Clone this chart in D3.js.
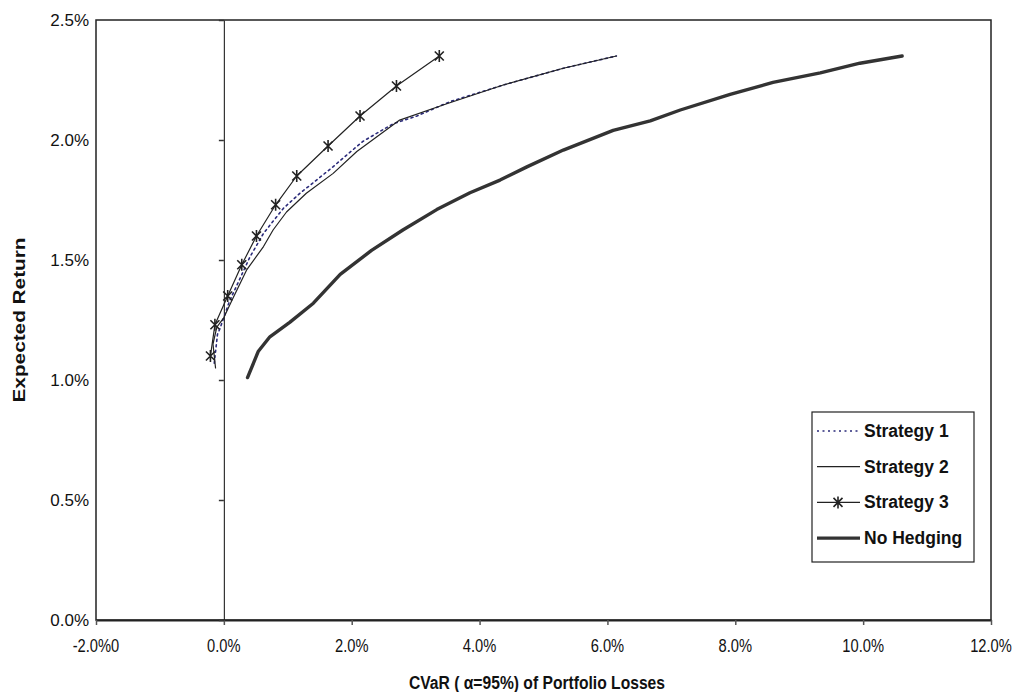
<!DOCTYPE html>
<html>
<head>
<meta charset="utf-8">
<script src="https://cdn.jsdelivr.net/npm/d3@7"></script>
<style>
  body { margin: 0; background: #fff; }
  text { font-family: "Liberation Sans", Arial, sans-serif; }
</style>
</head>
<body>
<div id="chart"></div>
<script>
// values in percent
const xTicks = [-2, 0, 2, 4, 6, 8, 10, 12]
const yTicks = [0, 0.5, 1, 1.5, 2, 2.5]

const s1X = [-0.15, -0.10, -0.06, 0.09, 0.17, 0.41, 0.62, 0.93, 1.19, 1.45, 1.71, 1.95, 2.18, 2.65, 3.02, 3.54, 4.37, 5.31, 6.14]
const s1Y = [1.07, 1.19, 1.215, 1.33, 1.375, 1.514, 1.611, 1.715, 1.778, 1.833, 1.889, 1.944, 1.995, 2.068, 2.10, 2.16, 2.229, 2.299, 2.35]

const s2X = [-0.13, -0.17, -0.11, 0.0, 0.14, 0.36, 0.62, 0.77, 0.98, 1.29, 1.71, 2.08, 2.75, 3.43, 4.37, 5.31, 6.14]
const s2Y = [1.05, 1.15, 1.22, 1.26, 1.34, 1.46, 1.556, 1.625, 1.70, 1.778, 1.861, 1.952, 2.083, 2.146, 2.229, 2.299, 2.35]

const s3X = [-0.21, -0.14, 0.06, 0.28, 0.51, 0.81, 1.14, 1.63, 2.13, 2.70, 3.37]
const s3Y = [1.10, 1.23, 1.35, 1.48, 1.60, 1.73, 1.85, 1.975, 2.10, 2.225, 2.35]

const noHedgeX = [0.37, 0.54, 0.72, 1.03, 1.40, 1.82, 2.31, 2.80, 3.33, 3.85, 4.32, 4.74, 5.31, 6.09, 6.67, 7.14, 7.92, 8.59, 9.33, 9.95, 10.61]
const noHedgeY = [1.01, 1.12, 1.18, 1.24, 1.32, 1.44, 1.54, 1.625, 1.71, 1.78, 1.833, 1.888, 1.958, 2.04, 2.08, 2.125, 2.19, 2.24, 2.28, 2.32, 2.35]

const seriesNames = ["Strategy 1", "Strategy 2", "Strategy 3", "No Hedging"]

const zip = (xs, ys) => xs.map((x, i) => [x, ys[i]])

const series = [
  {name: seriesNames[0], pts: zip(s1X, s1Y), color: "#2b2b7a", width: 1.6, dash: "2,3.5"},
  {name: seriesNames[1], pts: zip(s2X, s2Y), color: "#222", width: 1.2, dash: null},
  {name: seriesNames[2], pts: zip(s3X, s3Y), color: "#222", width: 1.2, dash: null, star: true},
  {name: seriesNames[3], pts: zip(noHedgeX, noHedgeY), color: "#333", width: 3.4, dash: null}
]

const W = 1026, H = 692
const plotLeft = 96, plotRight = 991, plotTop = 20, plotBottom = 620

const svg = d3.select("#chart")
  .append("svg")
  .attr("width", W)
  .attr("height", H)

const x = d3.scaleLinear().domain([-2, 12]).range([plotLeft, plotRight])
const y = d3.scaleLinear().domain([0, 2.5]).range([plotBottom, plotTop])

const fmt = d => d.toFixed(1) + "%"

// plot frame
svg.append("rect")
   .attr("x", plotLeft)
   .attr("y", plotTop)
   .attr("width", plotRight - plotLeft)
   .attr("height", plotBottom - plotTop)
   .attr("fill", "none")
   .attr("stroke", "#222")
   .attr("stroke-width", 1.5)

// x axis along the bottom
const xAxis = svg.append("g")
  .attr("transform", `translate(0,${plotBottom})`)
  .call(d3.axisBottom(x).tickValues(xTicks).tickSize(5).tickSizeOuter(0).tickFormat(""))
xAxis.select(".domain").attr("stroke", "#222").attr("stroke-width", 2)
xAxis.selectAll(".tick line").attr("stroke", "#555").attr("stroke-width", 1.5)

// x labels look horizontally squeezed in the original
svg.append("g")
   .selectAll("text")
   .data(xTicks)
   .enter()
   .append("text")
   .attr("transform", d => `translate(${x(d)},652) scale(0.84,1)`)
   .attr("text-anchor", "middle")
   .attr("font-size", 17.5)
   .attr("fill", "#111")
   .text(d => d === -2 ? fmt(d) + "0" : fmt(d))

// y axis crosses at x = 0
const yAxis = svg.append("g")
  .attr("transform", `translate(${x(0)},0)`)
  .call(d3.axisLeft(y).tickValues(yTicks).tickSize(5).tickSizeOuter(0).tickFormat(""))
yAxis.select(".domain").attr("stroke", "#222").attr("stroke-width", 1.1)
yAxis.selectAll(".tick line").attr("stroke", "#333").attr("stroke-width", 1.5)

svg.append("g")
   .selectAll("text")
   .data(yTicks)
   .enter()
   .append("text")
   .attr("x", plotLeft - 7)
   .attr("y", d => y(d) + 6)
   .attr("text-anchor", "end")
   .attr("font-size", 17)
   .attr("fill", "#111")
   .text(fmt)

// axis titles
svg.append("text")
   .attr("x", 537)
   .attr("y", 689)
   .attr("text-anchor", "middle")
   .attr("font-size", 17.5)
   .attr("font-weight", "bold")
   .attr("fill", "#111")
   .attr("textLength", 256)
   .attr("lengthAdjust", "spacingAndGlyphs")
   .text("CVaR ( α=95%) of Portfolio Losses")

svg.append("text")
   .attr("transform", `translate(25,${(plotTop + plotBottom) / 2}) rotate(-90)`)
   .attr("text-anchor", "middle")
   .attr("font-size", 17)
   .attr("font-weight", "bold")
   .attr("fill", "#111")
   .attr("textLength", 165)
   .attr("lengthAdjust", "spacingAndGlyphs")
   .text("Expected Return")

const line = d3.line().x(d => x(d[0])).y(d => y(d[1]))
const star = "M-4.5,-4.5L4.5,4.5M-4.5,4.5L4.5,-4.5M0,-6L0,6"

const lines = svg.append("g")
series.forEach(s => {
  lines.append("path")
       .datum(s.pts)
       .attr("d", line)
       .attr("fill", "none")
       .attr("stroke", s.color)
       .attr("stroke-width", s.width)
       .attr("stroke-dasharray", s.dash)
       .attr("stroke-linejoin", "round")
       .attr("stroke-linecap", "round")
  if (s.star) {
    lines.selectAll(null)
         .data(s.pts)
         .enter()
         .append("path")
         .attr("transform", d => `translate(${x(d[0])},${y(d[1])})`)
         .attr("d", star)
         .attr("stroke", "#222")
         .attr("stroke-width", 1.6)
  }
})

// legend
const legend = svg.append("g").attr("transform", "translate(812,412)")
legend.append("rect")
      .attr("width", 162)
      .attr("height", 150)
      .attr("fill", "#fff")
      .attr("stroke", "#222")
      .attr("stroke-width", 1.2)

series.forEach((s, i) => {
  const ly = 19 + i * 35.7
  legend.append("line")
        .attr("x1", 5).attr("x2", 48)
        .attr("y1", ly).attr("y2", ly)
        .attr("stroke", s.color)
        .attr("stroke-width", s.width)
        .attr("stroke-dasharray", s.dash)
  if (s.star) {
    legend.append("path")
          .attr("transform", `translate(26,${ly})`)
          .attr("d", star)
          .attr("stroke", "#222")
          .attr("stroke-width", 1.6)
  }
  legend.append("text")
        .attr("x", 52)
        .attr("y", ly + 6)
        .attr("font-size", 17.5)
        .attr("font-weight", "bold")
        .attr("fill", "#111")
        .text(s.name)
})
</script>
</body>
</html>
